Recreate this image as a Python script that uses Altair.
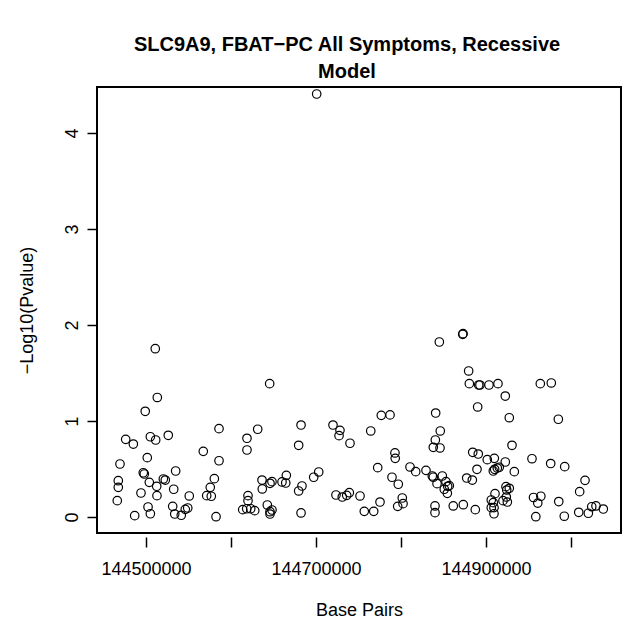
import altair as alt
import pandas as pd

base_pairs = [
    144513300, 144499100, 144510900, 144476100, 144485100, 144505100, 144511400, 144526200,
    144585900, 144567400, 144585900, 144618800, 144618800, 144631400, 144469400, 144501500,
    144496800, 144498000, 144503900, 144512600, 144520400, 144522700, 144534900, 144532600,
    144467400, 144467400, 144466200, 144494100, 144512900, 144502400, 144505100, 144486700,
    144531400, 144533800, 144541500, 144546200, 144549100, 144550900, 144580400, 144575600,
    144571400, 144576800, 144582400, 144613800, 144618500, 144623200, 144627900, 144620000,
    144620000, 144636500, 144636800,
    144645500, 144682400, 144679600, 144720000, 144728200, 144727100, 144740000, 144764400,
    144776800, 144787100, 144792900, 144793200, 144772600, 144810600, 144817300, 144789400,
    144796800, 144645900, 144648200, 144660000, 144664400, 144665100, 144697300, 144703200,
    144679600, 144683500, 144642700, 144645900, 144648200, 144645900, 144682400, 144723500,
    144730900, 144736100, 144739200, 144751800, 144775300, 144756800, 144767900, 144801500,
    144802400, 144796100, 144700800,
    144879600, 144880400, 144891400, 144892900, 144903500, 144914100, 144963900, 144976800,
    144922700, 144890200, 144840800, 144927400, 144985100, 144846200, 144840400, 144838000,
    144845900, 144930600, 144884400, 144890900, 144901500, 144909800, 144922700, 144954100,
    144976100, 144992600, 144829400, 144836800, 144838000, 144848600, 144842400, 144852900,
    144854900, 144850900, 144854500, 144856800, 144877300, 144883900, 144889400, 144908600,
    144910200, 144913300, 144915600, 144933300, 145016500, 145010200, 144923500, 144927400,
    144924400, 144920000, 144925100, 144923900, 144910600, 144906200, 144908600, 144906200,
    144909400, 144909400, 144861500, 144873300, 144887400, 144840000, 144840000, 144955900,
    144964500, 144960900, 144985600, 144958600, 144992100, 145009100, 145020400, 145024400,
    145029400, 145038000, 144845100, 144872600, 144873000,
]

neg_log10_p = [
    1.245, 1.101, 1.753, 0.809, 0.760, 0.836, 0.802, 0.851,
    0.920, 0.684, 0.586, 0.820, 0.698, 0.914, 0.552, 0.618,
    0.461, 0.448, 0.361, 0.320, 0.396, 0.385, 0.479, 0.289,
    0.378, 0.309, 0.170, 0.250, 0.222, 0.104, 0.034, 0.014,
    0.111, 0.031, 0.018, 0.080, 0.094, 0.219, 0.399, 0.309,
    0.222, 0.216, 0.003, 0.076, 0.086, 0.086, 0.066, 0.170,
    0.222, 0.385, 0.292,
    1.389, 0.958, 0.747, 0.958, 0.903, 0.847, 0.768, 0.896,
    1.059, 1.063, 0.667, 0.611, 0.514, 0.521, 0.472, 0.414,
    0.341, 0.351, 0.368, 0.365, 0.354, 0.434, 0.414, 0.469,
    0.271, 0.323, 0.125, 0.055, 0.073, 0.031, 0.042, 0.229,
    0.208, 0.226, 0.253, 0.219, 0.156, 0.059, 0.059, 0.198,
    0.139, 0.111, 4.406,
    1.521, 1.389, 1.375, 1.375, 1.375, 1.389, 1.389, 1.396,
    1.260, 1.146, 1.083, 1.034, 1.018, 0.896, 0.802, 0.726,
    0.719, 0.747, 0.674, 0.656, 0.597, 0.611, 0.573, 0.607,
    0.557, 0.524, 0.486, 0.427, 0.414, 0.427, 0.347, 0.368,
    0.320, 0.289, 0.247, 0.326, 0.406, 0.385, 0.497, 0.479,
    0.497, 0.510, 0.518, 0.472, 0.382, 0.264, 0.316, 0.299,
    0.281, 0.170, 0.156, 0.208, 0.243, 0.177, 0.149, 0.097,
    0.097, 0.034, 0.115, 0.128, 0.076, 0.115, 0.045, 0.203,
    0.216, 0.145, 0.161, 0.003, 0.008, 0.049, 0.039, 0.107,
    0.115, 0.083, 1.823, 1.903, 1.910,
]

x_ticks = [144500000, 144600000, 144700000, 144800000, 144900000, 145000000]
x_labelled = [144500000, 144700000, 144900000]
y_ticks = [0, 1, 2, 3, 4]
title_lines = ["SLC9A9, FBAT\u2212PC All Symptoms, Recessive", "Model"]

df = pd.DataFrame({"bp": base_pairs, "nlp": neg_log10_p})

FONT = "Liberation Sans"
label_expr = "indexof([" + ",".join(str(v) for v in x_labelled) + "], datum.value) >= 0 ? format(datum.value, 'd') : ''"

chart = (
    alt.Chart(df)
    .mark_point(shape="circle", filled=False, color="black", size=72, strokeWidth=1.2, opacity=1)
    .encode(
        x=alt.X(
            "bp:Q",
            scale=alt.Scale(domain=[144442353, 145058824], nice=False, zero=False),
            axis=alt.Axis(
                values=x_ticks,
                labelExpr=label_expr,
                title="Base Pairs",
                domain=False,
                grid=False,
                offset=4,
                tickSize=10,
                tickColor="black",
                tickWidth=1.5,
                labelFont=FONT,
                labelFontSize=18,
                labelColor="black",
                labelPadding=13,
                labelFlush=False,
                labelOverlap=False,
                titleFont=FONT,
                titleFontSize=18,
                titleFontWeight="normal",
                titleColor="black",
                titleY=73,
                titleBaseline="middle",
            ),
        ),
        y=alt.Y(
            "nlp:Q",
            scale=alt.Scale(domain=[-0.1667, 4.479], nice=False, zero=False),
            axis=alt.Axis(
                values=y_ticks,
                format="d",
                title="\u2212Log10(Pvalue)",
                domain=False,
                grid=False,
                tickSize=10,
                tickColor="black",
                tickWidth=1.5,
                labelAngle=270,
                labelAlign="center",
                labelBaseline="bottom",
                labelFont=FONT,
                labelFontSize=18,
                labelColor="black",
                labelPadding=6,
                titleFont=FONT,
                titleFontSize=18,
                titleFontWeight="normal",
                titleColor="black",
                titleX=-70,
                titleY=223,
                titleAngle=270,
                titleAlign="center",
                titleBaseline="middle",
            ),
        ),
    )
    .properties(
        width=524,
        height=446,
        autosize=alt.AutoSizeParams(type="none"),
        padding={"left": 97, "top": 87, "right": 3, "bottom": 89},
        title=alt.TitleParams(
            text=title_lines,
            font=FONT,
            fontSize=20,
            fontWeight="bold",
            color="black",
            anchor="middle",
            dx=-12,
            offset=5,
            lineHeight=27,
        ),
        background="white",
    )
    .configure_view(stroke="black", strokeWidth=2)
)

chart.save("out.html", embed_options={"renderer": "svg", "actions": False})
